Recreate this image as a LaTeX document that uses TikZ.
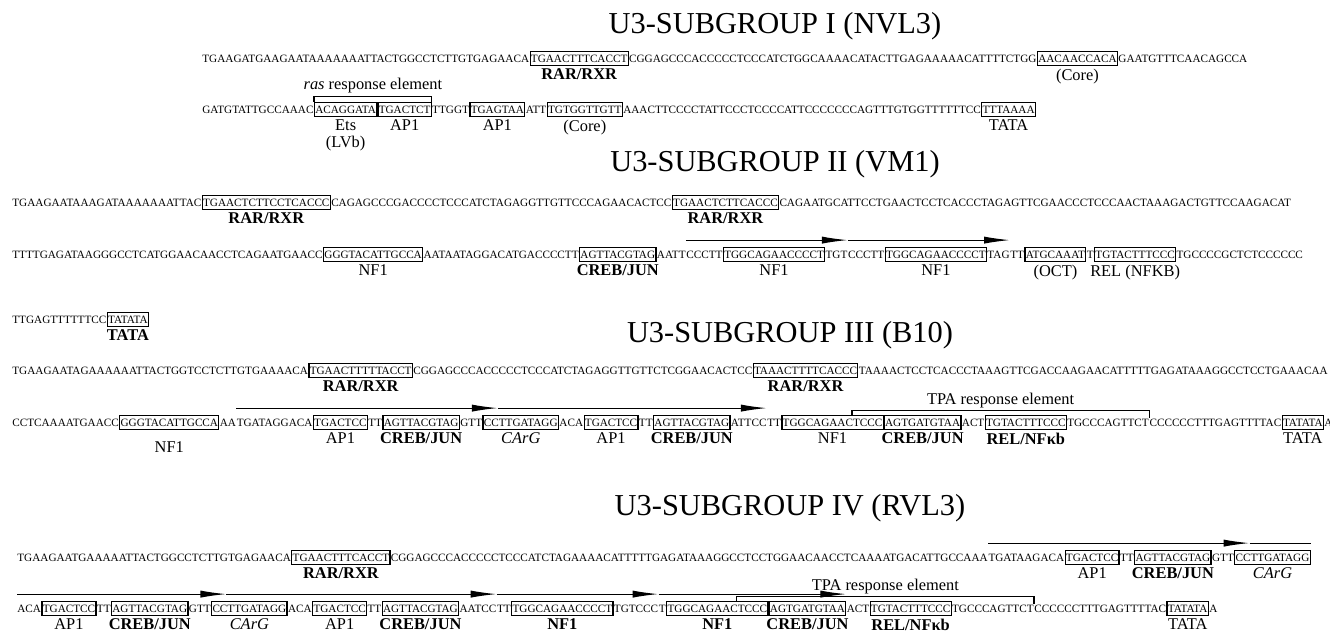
\documentclass[tikz,border=0pt]{standalone}
\usepackage{fontspec}
\setmainfont{Liberation Serif}
\usetikzlibrary{arrows.meta,positioning,calc}

\begin{document}
\begin{tikzpicture}[x=0.5pt, y=-0.5pt,
	seq/.style={inner sep=0pt, font=\fontsize{5.6}{6}\selectfont, text height=3.75pt, text depth=0pt},
	site/.style={seq, draw, line width=0.6pt, inner xsep=0.4pt, inner ysep=1.6pt},
	lab/.style={inner sep=0.5pt, font=\fontsize{8.2}{8.6}\selectfont, align=center},
	labb/.style={lab, font=\fontsize{8.2}{8.6}\selectfont\bfseries},
	labi/.style={lab, font=\fontsize{8.2}{8.6}\selectfont\itshape},
	title/.style={inner sep=0pt, anchor=base, font=\fontsize{15.2}{17}\selectfont},
	rep/.style={line width=0.6pt, -{Latex[length=13pt, width=3.6pt]}},
	brk/.style={line width=0.6pt}]

	\useasboundingbox (0,0) rectangle (1330,632);

	% Subgroup I
	\node[title] (t1) at (775,33) {U3-SUBGROUP I (NVL3)};
	\node[seq, anchor=base west] (l1a) at (202,62) {TGAAGATGAAGAATAAAAAAATTACTGGCCTCTTGTGAGAACA};
	\node[site, base right=0pt of l1a] (l1b) {TGAACTTTCACCT};
	\node[seq, base right=0pt of l1b] (l1c) {CGGAGCCCACCCCCTCCCATCTGGCAAAACATACTTGAGAAAAACATTTTCTGG};
	\node[site, base right=0pt of l1c] (l1d) {AACAACCACA};
	\node[seq, base right=0pt of l1d] (l1e) {GAATGTTTCAACAGCCA};
	\node[labb, below=0.8pt of l1b] (l1bt) {RAR/RXR};
	\node[lab, below=0.8pt of l1d] (l1dt) {(Core)};

	\node[seq, anchor=base west] (l2a) at (202,113) {GATGTATTGCCAAAC};
	\node[site, base right=0pt of l2a] (l2b) {ACAGGATA};
	\node[site, base right=0pt of l2b] (l2c) {TGACTCT};
	\node[seq, base right=0pt of l2c] (l2d) {TTGGT};
	\node[site, base right=0pt of l2d] (l2e) {TGAGTAA};
	\node[seq, base right=0pt of l2e] (l2f) {ATT};
	\node[site, base right=0pt of l2f] (l2g) {TGTGGTTGTT};
	\node[seq, base right=0pt of l2g] (l2h) {AAACTTCCCCTATTCCCTCCCCATTCCCCCCCAGTTTGTGGTTTTTTCC};
	\node[site, base right=0pt of l2h] (l2i) {TTTAAAA};
	\node[lab, below=0.8pt of l2b] (l2bt) {Ets\\(LVb)};
	\node[lab, below=0.8pt of l2c] (l2ct) {AP1};
	\node[lab, below=0.8pt of l2e] (l2et) {AP1};
	\node[lab, below=0.8pt of l2g] (l2gt) {(Core)};
	\node[lab, below=0.8pt of l2i] (l2it) {TATA};
	\draw[brk] (l2b.north west) -- ++(0,2.5pt) -| (l2c.north east);
	\node[lab, anchor=base] (ras) at ($(l2b.north west)!0.5!(l2c.north east)+(0,6pt)$) {\textit{ras} response element};

	% Subgroup II
	\node[title] (t2) at (775,171) {U3-SUBGROUP II (VM1)};
	\node[seq, anchor=base west] (l3a) at (12,206) {TGAAGAATAAAGATAAAAAAATTAC};
	\node[site, base right=0pt of l3a] (l3b) {TGAACTCTTCCTCACCC};
	\node[seq, base right=0pt of l3b] (l3c) {CAGAGCCCGACCCCTCCCATCTAGAGGTTGTTCCCAGAACACTCC};
	\node[site, base right=0pt of l3c] (l3d) {TGAACTCTTCACCC};
	\node[seq, base right=0pt of l3d] (l3e) {CAGAATGCATTCCTGAACTCCTCACCCTAGAGTTCGAACCCTCCCAACTAAAGACTGTTCCAAGACAT};
	\node[labb, below=0.8pt of l3b] (l3bt) {RAR/RXR};
	\node[labb, below=0.8pt of l3d] (l3dt) {RAR/RXR};

	\node[seq, anchor=base west] (l4a) at (12,258) {TTTTGAGATAAGGGCCTCATGGAACAACCTCAGAATGAACC};
	\node[site, base right=0pt of l4a] (l4b) {GGGTACATTGCCA};
	\node[seq, base right=0pt of l4b] (l4c) {AATAATAGGACATGACCCCTT};
	\node[site, base right=0pt of l4c] (l4d) {AGTTACGTAG};
	\node[seq, base right=0pt of l4d] (l4e) {AATT};
	\node[seq, base right=0pt of l4e] (l4f) {CCCTT};
	\node[site, base right=0pt of l4f] (l4g) {TGGCAGAACCCCT};
	\node[seq, base right=0pt of l4g] (l4h) {TGT};
	\node[seq, base right=0pt of l4h] (l4i) {CCCTT};
	\node[site, base right=0pt of l4i] (l4j) {TGGCAGAACCCCT};
	\node[seq, base right=0pt of l4j] (l4k) {TAG};
	\node[seq, base right=0pt of l4k] (l4l) {TT};
	\node[site, base right=0pt of l4l] (l4m) {ATGCAAAT};
	\node[seq, base right=0pt of l4m] (l4n) {T};
	\node[site, base right=0pt of l4n] (l4o) {TGTACTTTCCC};
	\node[seq, base right=0pt of l4o] (l4p) {TGCCCCGCTCTCCCCCC};
	\node[lab, below=0.8pt of l4b] (l4bt) {NF1};
	\node[labb, below=0.8pt of l4d] (l4dt) {CREB/JUN};
	\node[lab, below=0.8pt of l4g] (l4gt) {NF1};
	\node[lab, below=0.8pt of l4j] (l4jt) {NF1};
	\node[lab, below=0.8pt of l4m] (l4mt) {(OCT)};
	\node[lab, below=0.8pt of l4o] (l4ot) {REL (NFKB)};
	\coordinate (r2a) at ([yshift=5pt]l4f.north west);
	\coordinate (r2b) at (r2a -| l4i.west);
	\coordinate (r2c) at (r2a -| l4l.west);
	\draw[rep] (r2a) -- (r2b);
	\draw[rep] (r2b) -- (r2c);

	\node[seq, anchor=base west] (l5a) at (12,323) {TTGAGTTTTTTCC};
	\node[site, base right=0pt of l5a] (l5b) {TATATA};
	\node[labb, below=0.8pt of l5b] (l5bt) {TATA};

	% Subgroup III
	\node[title] (t3) at (790,342) {U3-SUBGROUP III (B10)};
	\node[seq, anchor=base west] (l6a) at (12,374) {TGAAGAATAGAAAAAATTACTGGTCCTCTTGTGAAAACA};
	\node[site, base right=0pt of l6a] (l6b) {TGAACTTTTTACCT};
	\node[seq, base right=0pt of l6b] (l6c) {CGGAGCCCACCCCCTCCCATCTAGAGGTTGTTCTCGGAACACTCC};
	\node[site, base right=0pt of l6c] (l6d) {TAAACTTTTCACCC};
	\node[seq, base right=0pt of l6d] (l6e) {TAAAACTCCTCACCCTAAAGTTCGACCAAGAACATTTTTGAGATAAAGGCCTCCTGAAACAA};
	\node[labb, below=0.8pt of l6b] (l6bt) {RAR/RXR};
	\node[labb, below=0.8pt of l6d] (l6dt) {RAR/RXR};

	\node[seq, anchor=base west] (l7a) at (12,426) {CCTCAAAATGAACC};
	\node[site, base right=0pt of l7a] (l7b) {GGGTACATTGCCA};
	\node[seq, base right=0pt of l7b] (l7c) {AA};
	\node[seq, base right=0pt of l7c] (l7d) {TGATAGGACA};
	\node[site, base right=0pt of l7d] (l7e) {TGACTCC};
	\node[seq, base right=0pt of l7e] (l7f) {TT};
	\node[site, base right=0pt of l7f] (l7g) {AGTTACGTAG};
	\node[seq, base right=0pt of l7g] (l7h) {GTT};
	\node[site, base right=0pt of l7h] (l7i) {CCTTGATAGG};
	\node[seq, base right=0pt of l7i] (l7j) {ACA};
	\node[site, base right=0pt of l7j] (l7k) {TGACTCC};
	\node[seq, base right=0pt of l7k] (l7l) {TT};
	\node[site, base right=0pt of l7l] (l7m) {AGTTACGTAG};
	\node[seq, base right=0pt of l7m] (l7n) {ATTCC};
	\node[seq, base right=0pt of l7n] (l7o) {TT};
	\node[site, base right=0pt of l7o] (l7p) {TGGCAGAACTCCC};
	\node[site, base right=0pt of l7p] (l7q) {AGTGATGTAA};
	\node[seq, base right=0pt of l7q] (l7r) {ACT};
	\node[site, base right=0pt of l7r] (l7s) {TGTACTTTCCC};
	\node[seq, base right=0pt of l7s] (l7t) {TGCCCAGTTCT};
	\node[seq, base right=0pt of l7t] (l7u) {CCCCCCTTTGAGTTTTAC};
	\node[site, base right=0pt of l7u] (l7v) {TATATA};
	\node[seq, base right=0pt of l7v] (l7w) {A};
	\node[lab, below=5pt of l7b] (l7bt) {NF1};
	\node[lab, below=0.8pt of l7e] (l7et) {AP1};
	\node[labb, below=0.8pt of l7g] (l7gt) {CREB/JUN};
	\node[labi, below=0.8pt of l7i] (l7it) {CArG};
	\node[lab, below=0.8pt of l7k] (l7kt) {AP1};
	\node[labb, below=0.8pt of l7m] (l7mt) {CREB/JUN};
	\node[lab, below=0.8pt of l7p] (l7pt) {NF1};
	\node[labb, below=0.8pt of l7q] (l7qt) {CREB/JUN};
	\node[labb, below=0.8pt of l7s] (l7st) {REL/NFκb};
	\node[lab, below=0.8pt of l7v] (l7vt) {TATA};
	\coordinate (r3a) at ([yshift=5pt]l7d.north west);
	\coordinate (c3) at ($(l7i.west)!0.2!(l7i.east)$);
	\coordinate (r3b) at (r3a -| c3);
	\coordinate (r3c) at (r3a -| l7o.west);
	\draw[rep] (r3a) -- (r3b);
	\draw[rep] (r3b) -- (r3c);
	\coordinate (p3) at ($(l7p.north west)!0.69!(l7p.north east)$);
	\coordinate (q3) at (p3 -| l7t.east);
	\draw[brk] (p3) -- ++(0,2pt) -| (l7t.north east);
	\node[lab, anchor=base] (tpa3) at ($(p3)!0.5!(q3)+(0,5pt)$) {TPA response element};

	% Subgroup IV
	\node[title] (t4) at (790,515) {U3-SUBGROUP IV (RVL3)};
	\node[seq, anchor=base west] (l8a) at (17,561) {TGAAGAATGAAAAATTACTGGCCTCTTGTGAGAACA};
	\node[site, base right=0pt of l8a] (l8b) {TGAACTTTCACCT};
	\node[seq, base right=0pt of l8b] (l8c) {CGGAGCCCACCCCCTCCCATCTAGAAAACATTTTTGAGATAAAGGCCTCCTGGAACAACCTCAAAATGACATTGCCAAA};
	\node[seq, base right=0pt of l8c] (l8d) {TGATAAGACA};
	\node[site, base right=0pt of l8d] (l8e) {TGACTCC};
	\node[seq, base right=0pt of l8e] (l8f) {TT};
	\node[site, base right=0pt of l8f] (l8g) {AGTTACGTAG};
	\node[seq, base right=0pt of l8g] (l8h) {GTT};
	\node[site, base right=0pt of l8h] (l8i) {CCTTGATAGG};
	\node[labb, below=0.8pt of l8b] (l8bt) {RAR/RXR};
	\node[lab, below=0.8pt of l8e] (l8et) {AP1};
	\node[labb, below=0.8pt of l8g] (l8gt) {CREB/JUN};
	\node[labi, below=0.8pt of l8i] (l8it) {CArG};
	\coordinate (r4a) at ([yshift=5pt]l8d.north west);
	\coordinate (c4) at ($(l8i.west)!0.2!(l8i.east)$);
	\coordinate (r4b) at (r4a -| c4);
	\coordinate (r4c) at (r4a -| l8i.east);
	\draw[rep] (r4a) -- (r4b);
	\draw[brk] (r4b) -- (r4c);

	\node[seq, anchor=base west] (l9a) at (17,612) {ACA};
	\node[site, base right=0pt of l9a] (l9b) {TGACTCC};
	\node[seq, base right=0pt of l9b] (l9c) {TT};
	\node[site, base right=0pt of l9c] (l9d) {AGTTACGTAG};
	\node[seq, base right=0pt of l9d] (l9e) {GTT};
	\node[site, base right=0pt of l9e] (l9f) {CCTTGATAGG};
	\node[seq, base right=0pt of l9f] (l9g) {ACA};
	\node[site, base right=0pt of l9g] (l9h) {TGACTCC};
	\node[seq, base right=0pt of l9h] (l9i) {TT};
	\node[site, base right=0pt of l9i] (l9j) {AGTTACGTAG};
	\node[seq, base right=0pt of l9j] (l9k) {AATCC};
	\node[seq, base right=0pt of l9k] (l9l) {TT};
	\node[site, base right=0pt of l9l] (l9m) {TGGCAGAACCCCT};
	\node[seq, base right=0pt of l9m] (l9n) {TGTCCC};
	\node[seq, base right=0pt of l9n] (l9o) {T};
	\node[site, base right=0pt of l9o] (l9p) {TGGCAGAACTCCC};
	\node[site, base right=0pt of l9p] (l9q) {AGTGATGTAA};
	\node[seq, base right=0pt of l9q] (l9r) {ACT};
	\node[site, base right=0pt of l9r] (l9s) {TGTACTTTCCC};
	\node[seq, base right=0pt of l9s] (l9t) {TGCCCAGTTCT};
	\node[seq, base right=0pt of l9t] (l9u) {CCCCCCTTTGAGTTTTAC};
	\node[site, base right=0pt of l9u] (l9v) {TATATA};
	\node[seq, base right=0pt of l9v] (l9w) {A};
	\node[lab, below=0.8pt of l9b] (l9bt) {AP1};
	\node[labb, below=0.8pt of l9d] (l9dt) {CREB/JUN};
	\node[labi, below=0.8pt of l9f] (l9ft) {CArG};
	\node[lab, below=0.8pt of l9h] (l9ht) {AP1};
	\node[labb, below=0.8pt of l9j] (l9jt) {CREB/JUN};
	\node[labb, below=0.8pt of l9m] (l9mt) {NF1};
	\node[labb, below=0.8pt of l9p] (l9pt) {NF1};
	\node[labb, below=0.8pt of l9q] (l9qt) {CREB/JUN};
	\node[labb, below=0.8pt of l9s] (l9st) {REL/NFκb};
	\node[lab, below=0.8pt of l9v] (l9vt) {TATA};
	\coordinate (r5a) at ([yshift=5pt]l9a.north west);
	\coordinate (c5) at ($(l9f.west)!0.2!(l9f.east)$);
	\coordinate (r5b) at (r5a -| c5);
	\coordinate (r5c) at (r5a -| l9l.west);
	\coordinate (r5d) at (r5a -| l9o.west);
	\coordinate (r5e) at (r5a -| l9q.east);
	\draw[rep] (r5a) -- (r5b);
	\draw[rep] (r5b) -- (r5c);
	\draw[rep] (r5c) -- (r5d);
	\draw[rep] (r5d) -- (r5e);
	\coordinate (p5) at ($(l9p.north west)!0.69!(l9p.north east)$);
	\coordinate (q5) at (p5 -| l9t.east);
	\draw[brk] (p5) -- ++(0,2pt) -| (l9t.north east);
	\node[lab, anchor=base] (tpa5) at ($(p5)!0.5!(q5)+(0,5pt)$) {TPA response element};
\end{tikzpicture}
\end{document}
